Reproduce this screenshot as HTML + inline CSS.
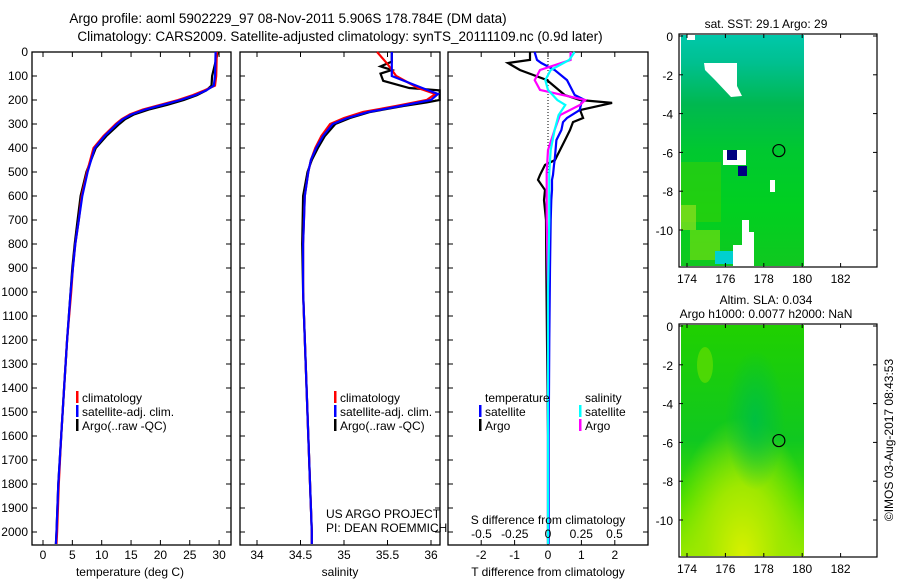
<!DOCTYPE html>
<html><head><meta charset="utf-8"><style>
html,body{margin:0;padding:0;background:#fff;}
svg{display:block;font-family:"Liberation Sans",sans-serif;}
</style></head><body>
<svg id="fig" width="900" height="580" viewBox="0 0 900 580">
<defs>
<linearGradient id="sstg" x1="0" y1="0" x2="0" y2="1">
<stop offset="0" stop-color="#00c8aa"/><stop offset="0.12" stop-color="#00c090"/><stop offset="0.3" stop-color="#00b850"/><stop offset="0.5" stop-color="#00c830"/><stop offset="0.75" stop-color="#00d020"/><stop offset="1" stop-color="#10c820"/>
</linearGradient>
<linearGradient id="slag" x1="0" y1="0" x2="0" y2="1">
<stop offset="0" stop-color="#20d000"/><stop offset="0.5" stop-color="#10c820"/><stop offset="0.75" stop-color="#40dc00"/><stop offset="1" stop-color="#90e800"/>
</linearGradient>
<radialGradient id="slay" cx="0.5" cy="1" r="0.6"><stop offset="0" stop-color="#d8f000"/><stop offset="0.5" stop-color="#a0e800"/><stop offset="1" stop-color="#a0e800" stop-opacity="0"/></radialGradient>
<radialGradient id="slad" cx="0.5" cy="0.5" r="0.5"><stop offset="0" stop-color="#00c040"/><stop offset="1" stop-color="#00c040" stop-opacity="0"/></radialGradient>
</defs>
<g id="titles" font-size="13.5" fill="#000">
<text x="288" y="23" text-anchor="middle">Argo profile: aoml 5902229_97 08-Nov-2011 5.906S 178.784E (DM data)</text>
<text x="340" y="41" text-anchor="middle">Climatology: CARS2009. Satellite-adjusted climatology: synTS_20111109.nc (0.9d later)</text>
</g>
<g id="p1"></g>
<g id="p2"></g>
<g id="p3"></g>
<g id="m1"></g>
<g id="m2"></g>
<text transform="translate(893,440) rotate(-90)" text-anchor="middle" font-size="12">©IMOS 03-Aug-2017 08:43:53</text>
</svg>
<script>
// ---- data ----
const depthTicks=[0,100,200,300,400,500,600,700,800,900,1000,1100,1200,1300,1400,1500,1600,1700,1800,1900,2000];
const tempTicks=[0,5,10,15,20,25,30];
const salTicks=[34,34.5,35,35.5,36];
const salTickLabels=["34","34.5","35","35.5","36"];
const tdTicks=[-2,-1,0,1,2];
const sdTicks=[-0.5,-0.25,0,0.25,0.5];
const sdTickLabels=["-0.5","-0.25","0","0.25","0.5"];
const tDepth=[0,100,140,160,180,200,220,240,260,280,300,350,400,500,600,700,800,900,1000,1200,1400,1600,1800,2000,2050];
const tClim=[29.6,29.5,29.3,27.5,25.5,23.0,20.0,17.0,14.8,13.4,12.4,10.3,8.6,7.5,6.6,6.1,5.5,5.1,4.8,4.1,3.6,3.1,2.7,2.4,2.3];
const tSat=[29.4,29.3,29.1,27.8,25.9,23.4,20.4,17.4,15.1,13.6,12.6,10.5,8.8,7.6,6.7,6.1,5.5,5.1,4.7,4.1,3.6,3.1,2.6,2.3,2.2];
const tArgo=[29.8,28.8,28.7,27.8,26.2,24.0,21.2,18.0,15.5,14.0,13.0,10.8,9.0,7.4,6.4,5.9,5.4,5.0,4.7,4.1,3.6,3.1,2.6,2.3,2.2];
const sDepth=[0,50,100,150,175,200,225,250,275,300,350,400,450,500,600,800,1000,1300,1600,2000,2050];
const sClim=[35.38,35.5,35.6,35.85,36.05,35.95,35.6,35.22,35.0,34.84,34.74,34.67,34.62,34.59,34.55,34.53,34.53,34.56,34.59,34.63,34.63];
const sSat=[35.55,35.55,35.55,35.9,36.08,36.0,35.65,35.28,35.04,34.87,34.76,34.68,34.62,34.59,34.55,34.53,34.53,34.56,34.59,34.63,34.63];
const sArgoDepth=[0,40,60,75,90,120,150,160,200,210,225,250,275,300,350,400,450,500,600,800,1000,1300,1600,2000,2050];
const sArgo=[35.55,35.55,35.42,35.55,35.42,35.45,35.75,36.1,36.1,35.95,35.68,35.3,35.07,34.9,34.78,34.7,34.63,34.58,34.53,34.52,34.53,34.56,34.59,34.63,34.63];
const dDepth=[0,33,46,75,117,179,200,212,242,275,292,325,367,450,471,512,533,575,617,700,900,1200,1600,2050];
const dTArgo=[-0.54,-0.54,-1.2,-0.84,-0.03,0.5,0.96,1.92,0.96,1.05,0.75,0.66,0.51,0.21,-0.09,-0.24,-0.3,-0.09,-0.12,-0.06,-0.05,-0.03,0,0];
const dTSat=[-0.4,-0.33,-0.2,0.2,0.57,0.8,1.1,1.0,0.95,0.57,0.45,0.4,0.25,0.2,0.18,0.15,0.12,0.12,0.1,0.08,0.06,0.04,0.02,0.02];
const sdDepth=[0,33,75,117,158,200,221,263,325,408,500,700,1000,2050];
const dSSat=[0.2,0.16,0.02,-0.02,0,0.07,0.13,0.08,0.05,0.02,0.01,0.01,0,0];
const dSArgo=[0.17,0.17,-0.06,-0.1,-0.06,0.28,0.24,0.09,0.05,0,-0.01,-0.01,0,0];
// ---- helpers ----
const NS="http://www.w3.org/2000/svg";
function mk(tag,attrs,parent,txt){const e=document.createElementNS(NS,tag);for(const k in attrs)e.setAttribute(k,attrs[k]);if(txt!==undefined)e.textContent=txt;parent.appendChild(e);return e;}
const yD=d=>52+d*0.24;
const plotTop=52,plotBot=545;
function box(g,x0,x1){
 const r=mk('rect',{x:x0,y:plotTop,width:x1-x0,height:plotBot-plotTop,fill:'none',stroke:'#000','stroke-width':1.3},g);
 
 depthTicks.forEach(d=>{mk('line',{x1:x0,x2:x0+5,y1:yD(d),y2:yD(d),stroke:'#000'},g);mk('line',{x1:x1-5,x2:x1,y1:yD(d),y2:yD(d),stroke:'#000'},g);});
}
function xticks(g,xs,labels,yl){xs.forEach((x,i)=>{mk('line',{x1:x,x2:x,y1:plotTop,y2:plotTop+5,stroke:'#000'},g);mk('line',{x1:x,x2:x,y1:plotBot-5,y2:plotBot,stroke:'#000'},g);
 const t=mk('text',{x:x,y:yl,'text-anchor':'middle','font-size':12},g,labels[i]);});}
function line(g,xs,ds,xf,col,name,w){const p=xs.map((v,i)=>xf(v).toFixed(1)+','+yD(ds[i]).toFixed(1)).join(' ');
 const e=mk('polyline',{points:p,fill:'none',stroke:col,'stroke-width':w||2.2},g);}
function legend(g,x,y,col,txt){if(col)mk('rect',{x:x-4,y:y-9,width:2.5,height:12,fill:col},g);const t=mk('text',{x:x+2,y:y+2,'font-size':12},g,txt);}
// ---- panel 1 ----
const p1=document.getElementById('p1');
const xT=t=>43+t*5.87;
box(p1,32,231);
depthTicks.forEach(d=>{const t=mk('text',{x:28,y:yD(d)+4,'text-anchor':'end','font-size':12},p1,String(d));});
xticks(p1,tempTicks.map(xT),tempTicks.map(String),559);
line(p1,tArgo,tDepth,xT,'#000','argo-temperature-line');
line(p1,tClim,tDepth,xT,'#f00','climatology-temperature-line');
line(p1,tSat,tDepth,xT,'#00f','satellite-temperature-line');
mk('text',{x:130,y:576,'text-anchor':'middle','font-size':12,},p1,'temperature (deg C)');
legend(p1,80,400,'#f00','climatology');legend(p1,80,414,'#00f','satellite-adj. clim.');legend(p1,80,428,'#000','Argo(..raw -QC)');
// ---- panel 2 ----
const p2=document.getElementById('p2');
const xS=s=>257+(s-34)*87;
box(p2,240,440);
xticks(p2,salTicks.map(xS),salTickLabels,559);
line(p2,sArgo,sArgoDepth,xS,'#000','argo-salinity-line');
line(p2,sClim,sDepth,xS,'#f00','climatology-salinity-line');
line(p2,sSat,sDepth,xS,'#00f','satellite-salinity-line');
mk('text',{x:340,y:576,'text-anchor':'middle','font-size':12,},p2,'salinity');
legend(p2,338,400,'#f00','climatology');legend(p2,338,414,'#00f','satellite-adj. clim.');legend(p2,338,428,'#000','Argo(..raw -QC)');
mk('text',{x:326,y:518,'font-size':12,},p2,'US ARGO PROJECT');
mk('text',{x:326,y:532,'font-size':12,},p2,'PI: DEAN ROEMMICH');
// ---- panel 3 ----
const p3=document.getElementById('p3');
const xTd=v=>548+v*33.4, xSd=v=>548+v*133;
box(p3,448,648);
xticks(p3,tdTicks.map(xTd),tdTicks.map(String),559);
mk('line',{x1:548,x2:548,y1:plotTop,y2:175,stroke:'#000','stroke-dasharray':'1,2'},p3);
line(p3,dTArgo,dDepth,xTd,'#000','argo-t-diff-line');
line(p3,dTSat,dDepth,xTd,'#00f','satellite-t-diff-line');
line(p3,dSArgo,sdDepth,xSd,'#f0f','argo-s-diff-line');
line(p3,dSSat,sdDepth,xSd,'#0ff','satellite-s-diff-line');
mk('text',{x:548,y:524,'text-anchor':'middle','font-size':12,},p3,'S difference from climatology');
sdTicks.forEach((v,i)=>{const t=mk('text',{x:xSd(v),y:538,'text-anchor':'middle','font-size':12},p3,sdTickLabels[i]);});
mk('text',{x:548,y:576,'text-anchor':'middle','font-size':12,},p3,'T difference from climatology');
legend(p3,483,400,null,'temperature');legend(p3,483,414,'#00f','satellite');legend(p3,483,428,'#000','Argo');
legend(p3,583,400,null,'salinity');legend(p3,583,414,'#0ff','satellite');legend(p3,583,428,'#f0f','Argo');
// ---- maps ----
const lonTicks=[174,176,178,180,182], latTicks=[0,-2,-4,-6,-8,-10];
function map(g,y0,y1,lat0y,fillId,title,extra){
 const xL=lon=>687+(lon-174)*19.2, yL=lat=>lat0y+(-lat)*19.4;
 title.forEach((t,i)=>mk('text',{x:766,y:y0-(title.length-1-i)*14-6,'text-anchor':'middle','font-size':12,},g,t));
 const r=mk('rect',{x:681,y:y0+1,width:123,height:y1-y0-2,fill:'url(#'+fillId+')'},g);
 extra(g);
 mk('rect',{x:679,y:y0,width:198,height:y1-y0,fill:'none',stroke:'#000','stroke-width':1.2},g);
 lonTicks.forEach(l=>{mk('line',{x1:xL(l),x2:xL(l),y1:y0,y2:y0+4,stroke:'#000'},g);mk('line',{x1:xL(l),x2:xL(l),y1:y1-4,y2:y1,stroke:'#000'},g);
  mk('text',{x:xL(l),y:y1+16,'text-anchor':'middle','font-size':12,},g,String(l));});
 latTicks.forEach(l=>{mk('line',{x1:679,x2:683,y1:yL(l),y2:yL(l),stroke:'#000'},g);mk('line',{x1:873,x2:877,y1:yL(l),y2:yL(l),stroke:'#000'},g);
  mk('text',{x:673,y:yL(l)+5,'text-anchor':'end','font-size':12,},g,String(l));});
 const c=mk('circle',{cx:xL(178.784),cy:yL(-5.906),r:6,fill:'none',stroke:'#000','stroke-width':1.2},g);
}
map(document.getElementById('m1'),34,267,36,'sstg',['sat. SST: 29.1 Argo: 29'],g=>{
 mk('rect',{x:681,y:162,width:40,height:60,fill:'#40d000',opacity:0.5},g);
 mk('rect',{x:681,y:205,width:15,height:25,fill:'#90e020',opacity:0.7},g);
 mk('rect',{x:690,y:230,width:30,height:30,fill:'#80e010',opacity:0.6},g);
 mk('polygon',{points:'704,63 737,63 737,86 742,96 731,97 715,80 705,70',fill:'#fff'},g);
 mk('rect',{x:687,y:35,width:8,height:5,fill:'#fff'},g);
 mk('rect',{x:723,y:150,width:23,height:15,fill:'#fff'},g);
 mk('rect',{x:727,y:150,width:10,height:10,fill:'#000080'},g);
 mk('rect',{x:738,y:166,width:9,height:10,fill:'#000080'},g);
 mk('rect',{x:770,y:180,width:5,height:12,fill:'#fff'},g);
 mk('polygon',{points:'742,220 749,220 749,232 754,232 754,267 733,267 733,245 742,245',fill:'#fff'},g);
 mk('rect',{x:715,y:251,width:18,height:13,fill:'#00d0d0'},g);
});
map(document.getElementById('m2'),324,557,326,'slag',['Altim. SLA: 0.034','Argo h1000: 0.0077 h2000: NaN'],g=>{
 mk('rect',{x:681,y:325,width:123,height:231,fill:'url(#slay)'},g);
 mk('ellipse',{cx:755,cy:420,rx:30,ry:70,fill:'url(#slad)'},g);
 mk('ellipse',{cx:705,cy:365,rx:8,ry:18,fill:'#70e000',opacity:0.6},g);
});
</script>
</body></html>
